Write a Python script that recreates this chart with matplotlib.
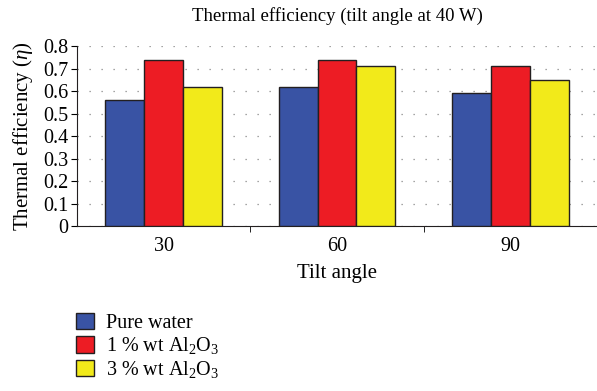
import numpy as np
import matplotlib.pyplot as plt
from matplotlib.patches import Patch

plt.rcParams['font.family'] = 'Liberation Serif'
plt.rcParams['mathtext.fontset'] = 'custom'
plt.rcParams['mathtext.rm'] = 'Liberation Serif'
plt.rcParams['mathtext.it'] = 'Liberation Serif:italic'

categories = ["30", "60", "90"]
pure_water = [0.56, 0.62, 0.59]
al2o3_1 = [0.74, 0.74, 0.71]
al2o3_3 = [0.62, 0.71, 0.65]
labels = ["Pure water", "1 % wt Al$_2$O$_3$", "3 % wt Al$_2$O$_3$"]
colors = ["#3953a4", "#ed1c24", "#f2ea1a"]

fig = plt.figure(figsize=(5.97, 3.91), dpi=100)
ax = fig.add_axes([0.129, 0.422, 0.871, 0.46])

x = np.arange(len(categories))
w = 0.224
for i, (vals, c) in enumerate(zip([pure_water, al2o3_1, al2o3_3], colors)):
    ax.bar(x + (i - 1) * w, vals, w, color=c, edgecolor="#231f20", linewidth=1.0, zorder=3)

ax.set_xlim(-0.5, 2.5)
ax.set_ylim(0, 0.8)
ax.set_yticks(np.arange(0, 0.81, 0.1))
ax.set_yticklabels(["0", "0.1", "0.2", "0.3", "0.4", "0.5", "0.6", "0.7", "0.8"])
ax.set_xticks(x)
ax.set_xticklabels(categories)
ax.set_xticks([0.5, 1.5], minor=True)
ax.tick_params(axis="x", which="major", length=0, pad=8, labelsize=14.5)
ax.tick_params(axis="x", which="minor", length=4, direction="out")
ax.tick_params(axis="y", length=4, direction="out", labelsize=14.5, pad=2)
ax.grid(axis="y", linestyle=(0, (1, 8.6)), color="#888888", linewidth=0.9, zorder=0)
for s in ["top", "right"]:
    ax.spines[s].set_visible(False)
ax.spines["left"].set_color("#231f20")
ax.spines["bottom"].set_color("#231f20")

ax.set_title("Thermal efficiency (tilt angle at 40 W)", fontsize=13.5, pad=18)
ax.set_xlabel("Tilt angle", fontsize=15, labelpad=6)
ax.set_ylabel("Thermal efficiency ($\\it{\\eta}$)", fontsize=15, labelpad=6)

handles = [Patch(facecolor=c, edgecolor="#231f20", linewidth=1.0) for c in colors]
fig.legend(handles, labels, loc="lower left", bbox_to_anchor=(0.097, -0.018), frameon=False,
           fontsize=14.5, handlelength=0.9, handleheight=0.9, handletextpad=0.6, labelspacing=0.12)

fig.savefig("out.png", dpi=100)
